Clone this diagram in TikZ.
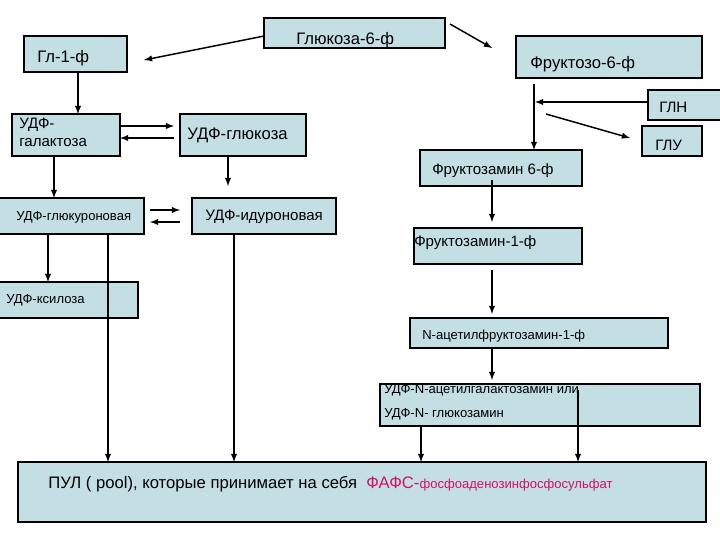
\documentclass[tikz,border=0pt]{standalone}
\usepackage{fontspec}
\setmainfont{Liberation Sans}
\definecolor{boxfill}{HTML}{C4DFE3}
\definecolor{mag}{HTML}{D0106A}
\tikzset{
 bx/.style={draw=black,fill=boxfill,line width=0.9pt},
 lbl/.style={anchor=west,inner sep=0pt},
 ar/.style={-latex,line width=1.1pt},
 big/.style={font=\fontsize{12.5pt}{14pt}\selectfont},
 mid/.style={font=\fontsize{11.3pt}{13pt}\selectfont},
 sml/.style={font=\fontsize{9.8pt}{12pt}\selectfont},
}
\begin{document}
\begin{tikzpicture}[x=0.75pt,y=-0.75pt]
\useasboundingbox (0,0) rectangle (720,540);
% boxes
\draw[bx] (264,18) rectangle (445,48); \node[lbl,big] (g6f) at (296,40) {Глюкоза-6-ф};
\draw[bx] (24,36) rectangle (127,72); \node[lbl,big] (g1f) at (37,58) {Гл-1-ф};
\draw[bx] (516,36) rectangle (702,78); \node[lbl,big] (f6f) at (530,64) {Фруктозо-6-ф};
\draw[bx] (12,114) rectangle (120,156); \node[lbl,mid,align=left,anchor=north west] (ugal) at (19,118) {УДФ-\\галактоза};
\draw[bx] (180,114) rectangle (306,156); \node[lbl,big] (uglc) at (187,135) {УДФ-глюкоза};
\draw[bx] (648,90) rectangle (722,120); \node[lbl,mid] (gln) at (659,107) {ГЛН};
\draw[bx] (642,126) rectangle (702,156); \node[lbl,mid] (glu) at (655,145) {ГЛУ};
\draw[bx] (420,150) rectangle (582,186); \node[lbl,mid] (fa6) at (432,171) {Фруктозамин 6-ф};
\draw[bx] (-2,198) rectangle (144,234); \node[lbl,sml] (ugur) at (16,217) {УДФ-глюкуроновая};
\draw[bx] (192,198) rectangle (336,234); \node[lbl,mid] (uidu) at (205,217) {УДФ-идуроновая};
\draw[bx] (414,228) rectangle (582,264); \node[lbl,mid] (fa1) at (414,243) {Фруктозамин-1-ф};
\draw[bx] (-2,282) rectangle (138,318); \node[lbl,sml] (uksi) at (6,300) {УДФ-ксилоза};
\draw[bx] (410,318) rectangle (668,348); \node[lbl,sml] (nac) at (422,336) {N-ацетилфруктозамин-1-ф};
\draw[bx] (380,384) rectangle (700,426);
\node[lbl,sml] (ud1) at (384,390) {УДФ-N-ацетилгалактозамин или};
\node[lbl,sml] (ud2) at (384,414) {УДФ-N- глюкозамин};
\draw[bx] (18,462) rectangle (706,522);
\node[lbl,big] (pool) at (48,484) {ПУЛ ( pool), которые принимает на себя \ \textcolor{mag}{ФАФС-{\fontsize{9.8pt}{11pt}\selectfont фосфоаденозинфосфосульфат}}};
% connectors
\draw[ar] (264,36) -- (144,60);
\draw[ar] (450,24) -- (492,48);
\draw[ar] (78,72) -- (78,114);
\draw[ar] (120,126) -- (174,126);
\draw[ar] (174,138) -- (120,138);
\draw[ar] (228,156) -- (228,186);
\draw[ar] (54,156) -- (54,198);
\draw[ar] (150,210) -- (180,210);
\draw[ar] (180,222) -- (150,222);
\draw[ar] (48,234) -- (48,282);
\draw[ar] (108,234) -- (108,462);
\draw[ar] (234,234) -- (234,462);
\draw[ar] (534,84) -- (534,150);
\draw[ar] (648,102) -- (535,102);
\draw[ar] (546,114) -- (630,138);
\draw[ar] (492,180) -- (492,222);
\draw[ar] (492,270) -- (492,314);
\draw[ar] (492,348) -- (492,380);
\draw[ar] (421,426) -- (421,462);
\draw[ar] (578,390) -- (578,462);
\end{tikzpicture}
\end{document}
